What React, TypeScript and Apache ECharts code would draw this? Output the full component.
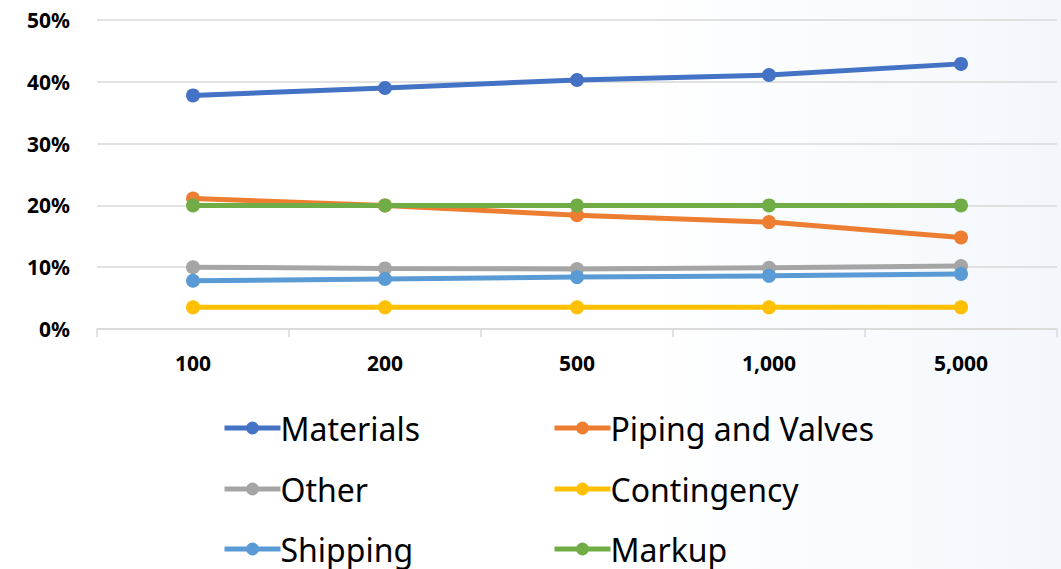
import React, { useEffect, useRef } from "react";
import * as echarts from "echarts";

const categories = ["100", "200", "500", "1,000", "5,000"];
const materials = [37.8, 39.0, 40.3, 41.1, 42.9];
const piping = [21.1, 20.0, 18.4, 17.3, 14.8];
const other = [10.0, 9.8, 9.7, 9.9, 10.2];
const contingency = [3.5, 3.5, 3.5, 3.5, 3.5];
const shipping = [7.8, 8.1, 8.4, 8.6, 8.9];
const markup = [20.0, 20.0, 20.0, 20.0, 20.0];

const seriesDefs = [
  { name: "Materials", data: materials, color: "#4472C4" },
  { name: "Piping and Valves", data: piping, color: "#ED7D31" },
  { name: "Other", data: other, color: "#A5A5A5" },
  { name: "Contingency", data: contingency, color: "#FFC000" },
  { name: "Shipping", data: shipping, color: "#5B9BD5" },
  { name: "Markup", data: markup, color: "#70AD47" },
];

const legendLayout = [
  { name: "Materials", left: 222, cy: 428 },
  { name: "Piping and Valves", left: 552, cy: 428 },
  { name: "Other", left: 222, cy: 489 },
  { name: "Contingency", left: 552, cy: 489 },
  { name: "Shipping", left: 222, cy: 549 },
  { name: "Markup", left: 552, cy: 549 },
];

const FONT = "'Noto Sans', sans-serif";

export default function App() {
  const ref = useRef<HTMLDivElement>(null);
  useEffect(() => {
    if (!ref.current) return;
    const chart = echarts.init(ref.current, null, { renderer: "svg" });
    const LH = 36;
    chart.setOption({
      animation: false,
      backgroundColor: {
        type: "linear",
        x: 0, y: 0, x2: 1, y2: 0,
        colorStops: [
          { offset: 0, color: "#ffffff" },
          { offset: 0.6, color: "#ffffff" },
          { offset: 1, color: "#f3f7fc" },
        ],
      },
      grid: { left: 97, right: 4, top: 20, bottom: 240 },
      legend: legendLayout.map((l) => ({
        data: [l.name],
        left: l.left,
        top: l.cy - LH / 2,
        padding: 0,
        itemWidth: 56,
        itemHeight: 16,
        lineStyle: { width: 5 },
        textStyle: {
          fontSize: 32,
          lineHeight: LH,
          color: "#000",
          fontFamily: FONT,
          padding: [0, 0, 0, -5],
        },
      })),
      xAxis: {
        type: "category",
        data: categories,
        boundaryGap: true,
        axisLine: { lineStyle: { color: "#d9d9d9", width: 1.5 } },
        axisTick: { show: true, length: 8, lineStyle: { color: "#d9d9d9", width: 1.5 } },
        axisLabel: { fontSize: 21, fontWeight: "bold", color: "#000", fontFamily: FONT, margin: 23 },
      },
      yAxis: {
        type: "value",
        min: 0,
        max: 50,
        interval: 10,
        axisLine: { show: false },
        axisTick: { show: false },
        splitLine: { lineStyle: { color: "#d9d9d9", width: 1.5 } },
        axisLabel: { formatter: "{value}%", fontSize: 21, fontWeight: "bold", color: "#000", fontFamily: FONT, margin: 27 },
      },
      series: seriesDefs.map((s) => ({
        name: s.name,
        type: "line",
        data: s.data,
        symbol: "circle",
        symbolSize: 14,
        lineStyle: { width: 5, color: s.color },
        itemStyle: { color: s.color },
      })),
    });
    return () => chart.dispose();
  }, []);
  return (
    <div
      ref={ref}
      style={{ position: "absolute", left: 0, top: 0, width: 1061, height: 569 }}
    />
  );
}
